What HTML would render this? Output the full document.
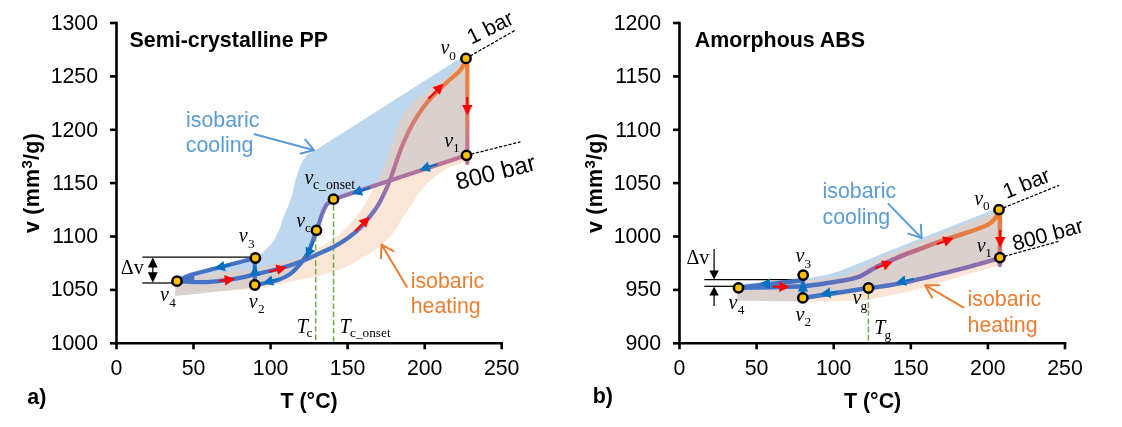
<!DOCTYPE html><html><head><meta charset="utf-8"><title>pvT diagrams</title>
<style>html,body{margin:0;padding:0;background:#fff}svg{display:block}text{font-family:"Liberation Sans",Arial,sans-serif;fill:#000}.tk{font-size:21.33px}.b{font-weight:bold;font-size:21.4px}.se{font-family:"Liberation Serif","Times New Roman",serif;font-size:20px}.it{font-style:italic}.sb{font-size:13.3px;font-style:normal}.cb{fill:#5B9BD5;font-size:21.33px}.co{fill:#ED7D31;font-size:21.33px}</style></head><body>
<svg width="1122" height="427" viewBox="0 0 1122 427">
<rect width="1122" height="427" fill="#fff"/>
<defs>
<linearGradient id="gLh" gradientUnits="userSpaceOnUse" x1="0" y1="58" x2="0" y2="248"><stop offset="0" stop-color="#ED7D31"/><stop offset="0.22" stop-color="#E27F50"/><stop offset="0.33" stop-color="#D47E6C"/><stop offset="0.45" stop-color="#C87888"/><stop offset="0.56" stop-color="#B87496"/><stop offset="0.64" stop-color="#A872A0"/><stop offset="0.75" stop-color="#8870B4"/><stop offset="0.86" stop-color="#6A70C0"/><stop offset="1" stop-color="#4472C4"/></linearGradient>
<linearGradient id="gRh" gradientUnits="userSpaceOnUse" x1="810" y1="0" x2="1000" y2="0"><stop offset="0" stop-color="#4472C4"/><stop offset="0.3" stop-color="#7A6CB4"/><stop offset="0.52" stop-color="#B86A8A"/><stop offset="0.7" stop-color="#D87860"/><stop offset="0.87" stop-color="#E87E40"/><stop offset="1" stop-color="#ED7D31"/></linearGradient>
<linearGradient id="gRv" gradientUnits="userSpaceOnUse" x1="0" y1="210" x2="0" y2="265"><stop offset="0" stop-color="#ED7D31"/><stop offset="0.6" stop-color="#E07858"/><stop offset="1" stop-color="#9A70A8"/></linearGradient>
<linearGradient id="gRc" gradientUnits="userSpaceOnUse" x1="1000" y1="0" x2="860" y2="0"><stop offset="0" stop-color="#9A70A8"/><stop offset="0.4" stop-color="#7A6CB4"/><stop offset="1" stop-color="#4472C4"/></linearGradient>
</defs>
<path d="M466.0 54.6 L313.5 151.4L313.5 151.4C312.8 151.8 310.3 152.7 309.0 153.6C307.7 154.5 306.9 155.2 305.5 157.0C304.1 158.8 302.5 160.7 300.8 164.6C299.1 168.5 297.0 175.4 295.5 180.6C294.0 185.8 293.3 191.1 291.9 195.8C290.5 200.5 288.6 205.0 287.0 209.0C285.4 213.0 283.8 216.4 282.4 220.0C281.0 223.6 280.6 226.8 278.8 230.7C277.0 234.6 274.7 239.3 271.7 243.2C268.7 247.1 263.7 251.7 261.0 253.9C258.3 256.1 262.4 254.6 255.4 256.5C248.4 258.4 229.8 262.8 219.0 265.5C208.2 268.2 197.9 270.8 190.6 272.8C183.3 274.8 177.9 276.7 175.3 277.5L175.3 296.0C183.9 295.1 213.8 292.1 227.0 290.6C240.2 289.1 250.2 287.6 254.8 287.0L254.8 285.0C256.7 284.6 262.3 283.7 266.3 282.8C270.3 281.9 274.9 281.1 278.8 279.7C282.7 278.3 286.5 276.3 289.5 274.4C292.5 272.5 294.2 270.6 296.6 268.1C299.0 265.6 301.7 262.2 303.8 259.2C305.9 256.2 307.0 255.1 309.1 250.3C311.2 245.5 314.9 234.7 316.5 230.3C318.1 226.0 317.7 227.0 318.7 224.2C319.7 221.4 321.0 216.8 322.3 213.5C323.6 210.2 324.8 207.0 326.7 204.6C328.6 202.2 332.4 200.1 333.5 199.2L466.5 155.3Z" fill="#BDD7EE"/>
<path d="M466.0 58.4C464.5 59.7 460.0 63.1 457.0 66.0C454.0 68.9 451.7 72.5 448.0 75.7C444.3 78.9 439.0 82.0 435.0 85.0C431.0 88.0 427.2 91.0 424.0 93.5C420.8 96.0 418.8 96.9 415.6 100.0C412.4 103.1 408.0 107.5 405.0 112.0C402.0 116.5 400.1 121.0 397.8 126.7C395.5 132.4 393.2 140.2 391.2 146.3C389.2 152.4 388.0 157.7 386.0 163.0C384.0 168.3 382.1 172.0 379.0 178.0C375.9 184.0 371.1 193.3 367.7 199.2C364.3 205.1 362.6 208.4 358.8 213.5C355.0 218.6 348.7 225.3 344.6 229.5C340.5 233.7 338.9 235.1 334.0 238.5C329.1 241.9 322.1 246.4 315.0 250.0C307.9 253.6 301.2 257.1 291.3 260.1C281.4 263.1 267.6 266.0 255.7 268.1C243.8 270.2 233.4 270.9 220.0 272.5C206.6 274.1 182.8 276.7 175.3 277.5L175.3 296.0C182.8 295.2 206.6 292.5 220.0 291.3C233.4 290.1 243.8 290.2 255.7 288.6C267.6 287.0 278.2 284.3 291.3 281.5C304.4 278.7 322.9 275.2 334.0 271.7C345.1 268.2 350.6 264.4 357.8 260.5C365.0 256.6 371.3 252.9 377.0 248.5C382.7 244.1 388.0 239.1 392.0 234.3C396.0 229.6 398.2 224.6 401.2 220.0C404.2 215.4 406.9 211.3 409.8 207.0C412.7 202.7 415.1 198.3 418.3 194.0C421.6 189.7 425.2 185.2 429.3 181.4C433.4 177.7 438.2 174.2 442.6 171.5C447.1 168.8 452.0 166.6 456.0 165.0C460.0 163.4 464.8 162.5 466.5 162.0L467.5 158 L467.5 58.4Z" fill="#F8CBAD" fill-opacity="0.5"/>
<path d="M999.0 207.5 L890.0 250.6L890.0 250.6C886.4 252.1 874.9 256.9 868.3 259.6C861.7 262.3 856.3 264.4 850.4 266.7C844.5 269.0 840.0 271.3 832.6 273.3C825.2 275.3 816.4 277.1 806.0 278.5C795.6 279.9 781.2 280.5 770.0 281.5C758.8 282.5 743.8 284.0 738.5 284.5L737.2 300.6 L802.8 301.5L802.8 297.9C807.8 297.2 821.6 295.1 832.6 293.5C843.6 291.9 861.0 289.1 868.5 288.0C876.0 286.9 871.8 287.9 877.8 287.0C883.8 286.1 895.7 284.4 904.6 282.6C913.5 280.8 920.9 278.8 931.3 276.3C941.7 273.8 956.3 270.2 967.0 267.4C977.7 264.6 990.0 261.0 995.5 259.4C1001.0 257.8 999.2 257.9 999.9 257.6Z" fill="#BDD7EE"/>
<path d="M999.0 209.6C997.8 210.2 995.2 211.8 992.0 213.2C988.8 214.6 987.1 215.4 980.0 218.2C972.9 221.0 960.2 225.9 949.1 230.2C938.0 234.5 923.7 240.1 913.5 244.2C903.3 248.2 895.4 251.2 888.0 254.5C880.6 257.8 875.3 260.9 869.0 264.0C862.7 267.1 856.5 270.7 850.4 273.0C844.3 275.3 840.5 276.4 832.6 277.6C824.7 278.8 818.9 279.1 803.2 280.3C787.5 281.5 749.3 284.2 738.5 285.0L737.2 300.6C748.1 300.8 782.3 301.5 802.8 301.5C823.3 301.5 847.5 301.0 860.0 300.4C872.5 299.8 870.4 299.0 877.8 297.7C885.2 296.4 895.7 294.5 904.6 292.4C913.5 290.3 920.9 288.3 931.3 285.3C941.7 282.3 955.6 278.0 967.0 274.6C978.4 271.2 994.4 266.6 999.9 265.0L1001 209.6Z" fill="#F8CBAD" fill-opacity="0.5"/>
<g stroke="#70AD47" stroke-width="1.5" stroke-dasharray="5.6 2.6" fill="none">
<path d="M315.7 236V343"/><path d="M333.5 205V343"/><path d="M868.4 294V343"/>
</g>
<g stroke="#000" stroke-width="1.25" fill="none">
<path d="M142.3 257.1H252"/><path d="M142.3 283H172"/><path d="M152.8 262V278"/>
<path d="M704.3 279.6H800"/><path d="M704.3 286.3H734"/><path d="M714.1 248.9V272"/><path d="M714.1 293V306"/>
</g>
<path d="M152.8 257.4l4.9 10.2h-9.8zM152.8 282.8l4.9 -10.6h-9.8z" fill="#000"/>
<path d="M714.1 279.4l4.7 -9h-9.4zM714.1 286.5l4.7 9h-9.4z" fill="#000"/>
<g stroke="#000" stroke-width="1.25" stroke-dasharray="3.2 1.6" fill="none">
<path d="M466 58.4L516.1 29.7"/><path d="M466.5 155.3L520.4 141.9"/>
<path d="M999 209.6L1059.2 185.3"/><path d="M999.9 257.6L1059.2 241.2"/>
</g>
<g fill="none" stroke-width="4.2" stroke-linecap="round" stroke-linejoin="round">
<path d="M255.4 258L191.2 274.7L177 281.2" stroke="#4472C4"/><path d="M177 281.2L194.3 274.2L194.3 282.1Z" fill="#4472C4" stroke="none"/>
<path d="M254.8 285V258" stroke="#4472C4"/>
<path d="M466.5 155.3L333.5 199.2C332.4 200.1 328.6 202.2 326.7 204.6C324.8 207.0 323.6 210.2 322.3 213.5C321.0 216.8 319.7 221.4 318.7 224.2C317.7 227.0 318.1 226.0 316.5 230.3C314.9 234.7 311.2 245.5 309.1 250.3C307.0 255.1 305.9 256.2 303.8 259.2C301.7 262.2 299.0 265.6 296.6 268.1C294.2 270.6 292.5 272.5 289.5 274.4C286.5 276.3 282.7 278.3 278.8 279.7C274.9 281.1 270.3 281.9 266.3 282.8C262.3 283.7 256.7 284.6 254.8 285.0" stroke="url(#gLh)"/>
<path d="M177.0 281.2C180.4 281.4 190.9 282.2 197.4 282.2C203.9 282.2 209.8 281.9 216.2 281.3C222.6 280.7 229.6 279.8 236.0 278.6C242.4 277.5 247.8 276.0 254.8 274.4C261.8 272.8 270.3 271.1 278.0 269.0C285.7 266.9 294.7 263.9 301.1 261.5C307.5 259.1 310.8 257.3 316.3 254.8C321.8 252.3 328.8 249.5 334.1 246.7C339.4 243.9 344.2 240.8 348.3 237.8C352.4 234.8 355.7 232.0 359.0 228.9C362.3 225.8 364.7 223.1 367.9 219.0C371.1 214.9 375.2 210.0 378.4 204.6C381.6 199.2 384.9 192.0 387.3 186.7C389.7 181.3 391.1 176.9 392.7 172.5C394.3 168.1 395.2 164.9 397.0 160.0C398.8 155.1 400.6 149.2 403.4 142.8C406.2 136.4 410.7 127.2 414.0 121.4C417.3 115.6 420.0 111.8 423.0 107.7C426.0 103.6 428.6 100.6 431.9 97.0C435.2 93.4 439.3 89.4 442.6 86.3C445.9 83.2 448.8 80.7 451.5 78.3C454.2 75.9 456.6 74.3 458.6 72.1C460.6 69.9 462.4 67.3 463.6 65.0C464.8 62.7 465.6 59.5 466.0 58.4" stroke="url(#gLh)"/>
<path d="M467.3 58.4V163" stroke="url(#gLh)"/>
</g>
<g fill="none" stroke-width="4.5" stroke-linecap="round" stroke-linejoin="round">
<path d="M802.8 297.9V275.1" stroke="#4472C4"/><path d="M803.2 277L800 280.6L738.5 287.8" stroke="#4472C4"/>
<path d="M999.9 257.6C999.2 257.9 1001.0 257.8 995.5 259.4C990.0 261.0 977.7 264.6 967.0 267.4C956.3 270.2 941.7 273.8 931.3 276.3C920.9 278.8 913.5 280.8 904.6 282.6C895.7 284.4 883.8 286.1 877.8 287.0C871.8 287.9 876.0 286.9 868.5 288.0C861.0 289.1 843.6 291.9 832.6 293.5C821.6 295.1 807.8 297.2 802.8 297.9" stroke="url(#gRc)"/>
<path d="M738.5 287.8C743.8 287.7 759.2 287.5 770.0 287.2C780.8 286.9 794.7 286.7 803.0 286.2C811.3 285.7 812.8 285.3 819.8 284.3C826.8 283.3 838.1 281.6 844.8 280.3C851.5 279.0 855.7 278.0 860.0 276.3C864.3 274.6 867.5 272.1 870.7 270.3C873.9 268.6 876.1 267.2 879.0 265.8C881.9 264.4 883.7 263.7 888.0 261.8C892.3 259.9 900.4 256.3 904.6 254.6C908.9 252.9 909.0 253.1 913.5 251.4C918.0 249.7 925.4 246.8 931.3 244.6C937.2 242.4 943.1 240.4 949.1 238.4C955.1 236.4 961.0 234.6 967.0 232.6C973.0 230.6 980.6 228.1 984.8 226.3C988.9 224.5 989.9 223.7 991.9 221.9C993.9 220.1 995.8 217.6 997.0 215.5C998.2 213.4 998.7 210.6 999.0 209.6" stroke="url(#gRh)"/>
<path d="M999.9 209.6V265" stroke="url(#gRv)"/>
</g>
<path d="M428.3 98.8L436.2 91.0" stroke="#FF0000" stroke-width="2.1" fill="none"/><path d="M443.5 83.7L439.9 94.7L432.5 87.2Z" fill="#FF0000"/>
<path d="M467.3 97.0L467.3 104.9" stroke="#FF0000" stroke-width="2.1" fill="none"/><path d="M467.3 115.2L462.1 104.9L472.6 104.9Z" fill="#FF0000"/>
<path d="M437.3 164.2L429.3 166.8" stroke="#0070C0" stroke-width="2.1" fill="none"/><path d="M419.5 170.0L427.7 161.8L430.9 171.8Z" fill="#0070C0"/>
<path d="M369.9 187.6L361.5 190.4" stroke="#0070C0" stroke-width="2.1" fill="none"/><path d="M351.7 193.7L359.8 185.4L363.1 195.4Z" fill="#0070C0"/>
<path d="M355.3 231.3L362.3 224.1" stroke="#FF0000" stroke-width="2.1" fill="none"/><path d="M369.5 216.7L366.1 227.7L358.6 220.4Z" fill="#FF0000"/>
<path d="M313.6 241.4L310.5 248.8" stroke="#0070C0" stroke-width="2.1" fill="none"/><path d="M306.5 258.3L305.6 246.8L315.3 250.8Z" fill="#0070C0"/>
<path d="M269.0 271.7L276.8 269.7" stroke="#FF0000" stroke-width="2.1" fill="none"/><path d="M286.8 267.2L278.1 274.8L275.5 264.6Z" fill="#FF0000"/>
<path d="M278.8 278.8L272.7 280.5" stroke="#0070C0" stroke-width="2.1" fill="none"/><path d="M262.8 283.3L271.3 275.5L274.1 285.6Z" fill="#0070C0"/>
<path d="M254.8 265.5L260.1 275.8L249.6 275.8Z" fill="#0070C0"/>
<path d="M218.9 280.8L224.8 280.1" stroke="#FF0000" stroke-width="2.1" fill="none"/><path d="M235.0 279.0L225.3 285.4L224.2 274.9Z" fill="#FF0000"/>
<path d="M230.5 264.8L224.6 266.1" stroke="#0070C0" stroke-width="2.1" fill="none"/><path d="M214.5 268.3L223.4 261.0L225.7 271.2Z" fill="#0070C0"/>
<path d="M1000.2 229.9L1000.2 237.1" stroke="#FF0000" stroke-width="2.1" fill="none"/><path d="M1000.2 247.4L995.0 237.1L1005.5 237.1Z" fill="#FF0000"/>
<path d="M936.6 244.2L943.9 241.5" stroke="#FF0000" stroke-width="2.1" fill="none"/><path d="M953.6 237.9L945.8 246.4L942.1 236.6Z" fill="#FF0000"/>
<path d="M875.4 268.2L883.1 265.3" stroke="#FF0000" stroke-width="2.1" fill="none"/><path d="M892.7 261.7L884.9 270.2L881.2 260.4Z" fill="#FF0000"/>
<path d="M913.5 278.8L905.7 280.7" stroke="#0070C0" stroke-width="2.1" fill="none"/><path d="M895.7 283.1L904.5 275.6L906.9 285.8Z" fill="#0070C0"/>
<path d="M837.0 291.8L830.4 292.8" stroke="#0070C0" stroke-width="2.1" fill="none"/><path d="M820.2 294.3L829.6 287.6L831.2 298.0Z" fill="#0070C0"/>
<path d="M773.1 286.6L779.3 286.7" stroke="#FF0000" stroke-width="2.1" fill="none"/><path d="M789.6 286.9L779.2 292.0L779.4 281.5Z" fill="#FF0000"/>
<path d="M759.7 283.7L770.0 278.4L770.0 288.9Z" fill="#0070C0"/>
<path d="M803.0 281.2L808.2 291.5L797.8 291.5Z" fill="#0070C0"/>
<g fill="#FFC000" stroke="#000" stroke-width="2.5">
<circle cx="466" cy="58.4" r="4.65"/>
<circle cx="466.5" cy="155.3" r="4.65"/>
<circle cx="333.5" cy="199.2" r="4.65"/>
<circle cx="316.5" cy="230.3" r="4.65"/>
<circle cx="254.8" cy="285" r="4.65"/>
<circle cx="255.4" cy="258" r="4.65"/>
<circle cx="177" cy="281.2" r="4.65"/>
<circle cx="999" cy="209.6" r="4.65"/>
<circle cx="999.9" cy="257.6" r="4.65"/>
<circle cx="868.5" cy="288" r="4.65"/>
<circle cx="802.8" cy="297.9" r="4.65"/>
<circle cx="803.2" cy="275.1" r="4.65"/>
<circle cx="738.5" cy="287.8" r="4.65"/>
</g>
<g fill="none" stroke="#5B9BD5" stroke-width="2" stroke-linecap="round" stroke-linejoin="round">
<path d="M254.5 134.3L314.2 150.3M305.3 139.6L314.2 150.3L300.8 153.5"/>
<path d="M888.4 203.9L921.7 238.1M920.8 224.7L921.7 238.1L908.3 233.6"/>
</g>
<g fill="none" stroke="#ED7D31" stroke-width="2" stroke-linecap="round" stroke-linejoin="round">
<path d="M406.8 286.8L381.5 244.6M393.5 251.2L381.5 244.6L381 258.3"/>
<path d="M963.3 307.4L925 285.2M939.2 285.2L925 285.2L932.1 297.6"/>
</g>
<g stroke="#000" stroke-width="2.6" fill="none" stroke-linecap="butt">
<path d="M116.5 21.7V344.6"/>
<path d="M115.2 343.3H503.0"/>
<path d="M110.0 343.3H116.5"/>
<path d="M110.0 289.9H116.5"/>
<path d="M110.0 236.5H116.5"/>
<path d="M110.0 183.1H116.5"/>
<path d="M110.0 129.8H116.5"/>
<path d="M110.0 76.4H116.5"/>
<path d="M110.0 23.0H116.5"/>
<path d="M116.5 343.3V349.3"/>
<path d="M193.5 343.3V349.3"/>
<path d="M270.6 343.3V349.3"/>
<path d="M347.6 343.3V349.3"/>
<path d="M424.7 343.3V349.3"/>
<path d="M501.7 343.3V349.3"/>
</g>
<text class="tk" x="98.1" y="349.6" text-anchor="end">1000</text>
<text class="tk" x="98.1" y="296.3" text-anchor="end">1050</text>
<text class="tk" x="98.1" y="243.1" text-anchor="end">1100</text>
<text class="tk" x="98.1" y="189.8" text-anchor="end">1150</text>
<text class="tk" x="98.1" y="136.6" text-anchor="end">1200</text>
<text class="tk" x="98.1" y="83.3" text-anchor="end">1250</text>
<text class="tk" x="98.1" y="30.1" text-anchor="end">1300</text>
<text class="tk" x="116.5" y="374.6" text-anchor="middle">0</text>
<text class="tk" x="193.5" y="374.6" text-anchor="middle">50</text>
<text class="tk" x="270.6" y="374.6" text-anchor="middle">100</text>
<text class="tk" x="347.6" y="374.6" text-anchor="middle">150</text>
<text class="tk" x="424.7" y="374.6" text-anchor="middle">200</text>
<text class="tk" x="501.7" y="374.6" text-anchor="middle">250</text>
<g stroke="#000" stroke-width="2.6" fill="none" stroke-linecap="butt">
<path d="M679.5 21.7V344.6"/>
<path d="M678.2 343.3H1066.3"/>
<path d="M673.0 343.3H679.5"/>
<path d="M673.0 289.9H679.5"/>
<path d="M673.0 236.5H679.5"/>
<path d="M673.0 183.1H679.5"/>
<path d="M673.0 129.8H679.5"/>
<path d="M673.0 76.4H679.5"/>
<path d="M673.0 23.0H679.5"/>
<path d="M679.5 343.3V349.3"/>
<path d="M756.6 343.3V349.3"/>
<path d="M833.7 343.3V349.3"/>
<path d="M910.8 343.3V349.3"/>
<path d="M987.9 343.3V349.3"/>
<path d="M1065.0 343.3V349.3"/>
</g>
<text class="tk" x="661.1" y="349.6" text-anchor="end">900</text>
<text class="tk" x="661.1" y="296.3" text-anchor="end">950</text>
<text class="tk" x="661.1" y="243.1" text-anchor="end">1000</text>
<text class="tk" x="661.1" y="189.8" text-anchor="end">1050</text>
<text class="tk" x="661.1" y="136.6" text-anchor="end">1100</text>
<text class="tk" x="661.1" y="83.3" text-anchor="end">1150</text>
<text class="tk" x="661.1" y="30.1" text-anchor="end">1200</text>
<text class="tk" x="679.5" y="374.6" text-anchor="middle">0</text>
<text class="tk" x="756.6" y="374.6" text-anchor="middle">50</text>
<text class="tk" x="833.7" y="374.6" text-anchor="middle">100</text>
<text class="tk" x="910.8" y="374.6" text-anchor="middle">150</text>
<text class="tk" x="987.9" y="374.6" text-anchor="middle">200</text>
<text class="tk" x="1065.0" y="374.6" text-anchor="middle">250</text>
<text class="b" x="129.5" y="46.6">Semi-crystalline PP</text>
<text class="b" x="694.7" y="46.6" font-size="21.3">Amorphous ABS</text>
<text class="b" x="27.3" y="404.2" font-size="22">a)</text>
<text class="b" x="592.8" y="403" font-size="22">b)</text>
<text class="b" x="309.1" y="407.5" text-anchor="middle">T (°C)</text>
<text class="b" x="872.6" y="407.5" text-anchor="middle" font-size="21.2">T (°C)</text>
<text class="b" transform="translate(38.8 183) rotate(-90)" text-anchor="middle" letter-spacing="0.3">v (mm<tspan font-size="15" dy="-7">3</tspan><tspan dy="7">/g)</tspan></text>
<text class="b" transform="translate(601.8 183) rotate(-90)" text-anchor="middle" letter-spacing="0.3">v (mm<tspan font-size="15" dy="-7">3</tspan><tspan dy="7">/g)</tspan></text>
<text class="cb" x="186" y="126.5">isobaric</text><text class="cb" x="185.8" y="152">cooling</text>
<text class="cb" x="822.6" y="198">isobaric</text><text class="cb" x="822.6" y="223.5">cooling</text>
<text class="co" x="410.7" y="287.7">isobaric</text><text class="co" x="410.7" y="313">heating</text>
<text class="co" x="967.6" y="305.7">isobaric</text><text class="co" x="967.6" y="331.5">heating</text>
<text transform="translate(471.5 44.8) rotate(-26.5)" font-size="21.4">1 bar</text>
<text transform="translate(458 190) rotate(-14.3)" font-size="24">800 bar</text>
<text transform="translate(1006.5 199) rotate(-22)" font-size="21.4">1 bar</text>
<text transform="translate(1014.5 250.8) rotate(-15.2)" font-size="21.4">800 bar</text>
<text class="se it" x="440.6" y="54.3">v<tspan class="sb" dx="-0.3" dy="5.2">0</tspan></text>
<text class="se it" x="444.3" y="146.8">v<tspan class="sb" dx="-0.3" dy="5.2">1</tspan></text>
<text class="se it" x="238.7" y="242.3">v<tspan class="sb" dx="0.3" dy="5.2">3</tspan></text>
<text class="se it" x="248.7" y="307.6">v<tspan class="sb" dx="0.3" dy="5.2">2</tspan></text>
<text class="se it" x="160" y="301.4">v<tspan class="sb" dx="0.3" dy="5.2">4</tspan></text>
<text class="se it" x="296.3" y="226.5">v<tspan class="sb" dx="-0.3" dy="5">c</tspan></text>
<text class="se it" x="304.6" y="184">v<tspan class="sb" dx="-0.6" dy="5.4"><tspan font-size="13.8">c_onset</tspan></tspan></text>
<text class="se it" x="296.7" y="332.7">T<tspan class="sb" dx="-1.3" dy="4.7">c</tspan></text>
<text class="se it" x="339.5" y="332.7">T<tspan class="sb" dx="-0.6" dy="4.7">c_onset</tspan></text>
<text class="se it" x="974.3" y="204.9">v<tspan class="sb" dx="-0.3" dy="5.2">0</tspan></text>
<text class="se it" x="976.8" y="252.3">v<tspan class="sb" dx="-0.5" dy="4.6">1</tspan></text>
<text class="se it" x="795.4" y="262.3">v<tspan class="sb" dx="0.3" dy="5.2">3</tspan></text>
<text class="se it" x="795.4" y="321">v<tspan class="sb" dx="0.3" dy="5.2">2</tspan></text>
<text class="se it" x="728.5" y="308.6">v<tspan class="sb" dx="0.3" dy="5.2">4</tspan></text>
<text class="se it" x="852.6" y="304.2">v<tspan class="sb" dx="-1" dy="5.4">g</tspan></text>
<text class="se it" x="874.3" y="334.4">T<tspan class="sb" dx="-1" dy="4.5">g</tspan></text>
<text class="se" x="120.8" y="273.6" font-size="20.5">Δv</text>
<text class="se" x="686.5" y="264.1" font-size="20.5">Δv</text>
</svg></body></html>
